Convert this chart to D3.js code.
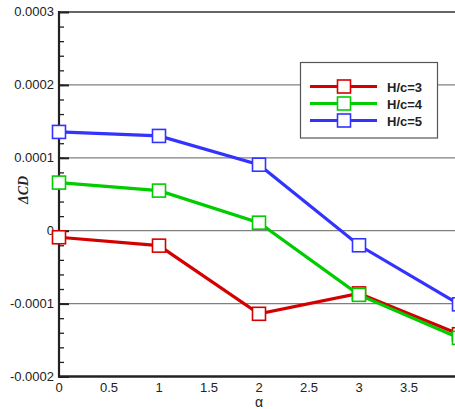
<!DOCTYPE html>
<html>
<head>
<meta charset="utf-8">
<script src="https://cdn.jsdelivr.net/npm/d3@7"></script>
<style>
  body { margin: 0; background: #fff; }
  text { font-family: Arial, "Liberation Sans", sans-serif; }
</style>
</head>
<body>
<svg id="chart" width="455" height="409"></svg>
<script>
// values
var alpha = [0, 1, 2, 3, 4]
  , hc3 = [-0.000009, -0.0000205, -0.000114, -0.000086, -0.000142]
  , hc4 = [0.000066, 0.000055, 0.000011, -0.000088, -0.000147]
  , hc5 = [0.0001355, 0.00013, 0.0000905, -0.00002, -0.000101]
  , seriesNames = ['H/c=3', 'H/c=4', 'H/c=5']
  , seriesColors = ['#d40000', '#00cc00', '#3333ff']
  , xTicks = [0, 0.5, 1, 1.5, 2, 2.5, 3, 3.5, 4]
  , yTicks = [-0.0002, -0.0001, 0, 0.0001, 0.0002, 0.0003]

var svg = d3.select('#chart')
  , x = d3.scaleLinear().domain([0, 4]).range([59, 459])
  , y = d3.scaleLinear().domain([-0.0002, 0.0003]).range([376.5, 12])
  , series = [hc3, hc4, hc5]

var fmtY = function(d) { return d === 0 ? '0' : d.toFixed(4) }

// horizontal grid
svg.append('g').selectAll('line').data(yTicks.slice(1, -1)).enter().append('line')
  .attr('x1', x(0)).attr('x2', 455)
  .attr('y1', function(d) { return y(d) }).attr('y2', function(d) { return y(d) })
  .attr('stroke', '#808080').attr('stroke-width', 1.2)

// top border
svg.append('line').attr('x1', x(0)).attr('x2', 455)
  .attr('y1', y(0.0003)).attr('y2', y(0.0003))
  .attr('stroke', '#333').attr('stroke-width', 1.5)

// y axis with inward ticks
var yAxis = d3.axisRight(y).tickValues(yTicks).tickSize(10).tickFormat('')
var yMinor = d3.axisRight(y).tickValues(d3.range(-0.0002, 0.0003, 0.00002)).tickSize(5).tickFormat('')
var ga = svg.append('g').attr('transform', 'translate(' + x(0) + ',0)').call(yMinor)
var gb = svg.append('g').attr('transform', 'translate(' + x(0) + ',0)').call(yAxis)
svg.selectAll('.domain').remove()
ga.selectAll('line').attr('stroke', '#222').attr('stroke-width', 1.3)
gb.selectAll('line').attr('stroke', '#222').attr('stroke-width', 2)

svg.append('line').attr('x1', x(0)).attr('x2', x(0)).attr('y1', y(0.0003) - 1).attr('y2', y(-0.0002) + 1)
  .attr('stroke', '#222').attr('stroke-width', 2.2)
svg.append('line').attr('x1', x(0) - 1).attr('x2', 455).attr('y1', y(-0.0002)).attr('y2', y(-0.0002))
  .attr('stroke', '#222').attr('stroke-width', 2.5)

// tick labels
svg.append('g').selectAll('text').data(yTicks).enter().append('text')
  .attr('x', x(0) - 5).attr('y', function(d) { return y(d) + 4 })
  .attr('text-anchor', 'end').attr('font-size', 13).attr('fill', '#222')
  .text(fmtY)
svg.append('g').selectAll('text').data(xTicks).enter().append('text')
  .attr('x', function(d) { return x(d) }).attr('y', y(-0.0002) + 15)
  .attr('text-anchor', 'middle').attr('font-size', 13).attr('fill', '#222')
  .text(function(d) { return d })

// axis titles
svg.append('text').attr('x', x(2)).attr('y', 407).attr('text-anchor', 'middle')
  .attr('font-size', 14).attr('fill', '#222').text('α')
svg.append('text').attr('transform', 'translate(28,190) rotate(-90)')
  .attr('text-anchor', 'middle').attr('font-size', 14).attr('font-weight', 'bold')
  .attr('font-style', 'italic').attr('fill', '#222')
  .style('font-family', '"Liberation Serif", "DejaVu Serif", serif')
  .text('ΔCD')

// series
var line = d3.line().x(function(d, i) { return x(alpha[i]) }).y(function(d) { return y(d) })
series.forEach(function(vals, k) {
  var g = svg.append('g')
  g.append('path').attr('d', line(vals)).attr('fill', 'none')
    .attr('stroke', seriesColors[k]).attr('stroke-width', 3.2)
  g.selectAll('rect').data(vals).enter().append('rect')
    .attr('x', function(d, i) { return x(alpha[i]) - 6.5 })
    .attr('y', function(d) { return y(d) - 6.5 })
    .attr('width', 13).attr('height', 13)
    .attr('fill', '#fff').attr('stroke', seriesColors[k]).attr('stroke-width', 1.6)
})

// legend
var lg = svg.append('g')
lg.append('rect').attr('x', 300.5).attr('y', 62.5).attr('width', 137).attr('height', 75.5)
  .attr('fill', '#fff').attr('stroke', '#555').attr('stroke-width', 1.2)
seriesNames.forEach(function(name, k) {
  var cy = 86.5 + k * 17
  lg.append('line').attr('x1', 310).attr('x2', 377).attr('y1', cy).attr('y2', cy)
    .attr('stroke', seriesColors[k]).attr('stroke-width', 3.2)
  lg.append('rect').attr('x', 344 - 6.5).attr('y', cy - 6.5).attr('width', 13).attr('height', 13)
    .attr('fill', '#fff').attr('stroke', seriesColors[k]).attr('stroke-width', 1.6)
  lg.append('text').attr('x', 387).attr('y', cy + 5).attr('font-size', 13)
    .attr('font-weight', 'bold').attr('fill', '#222').text(name)
})
</script>
</body>
</html>
